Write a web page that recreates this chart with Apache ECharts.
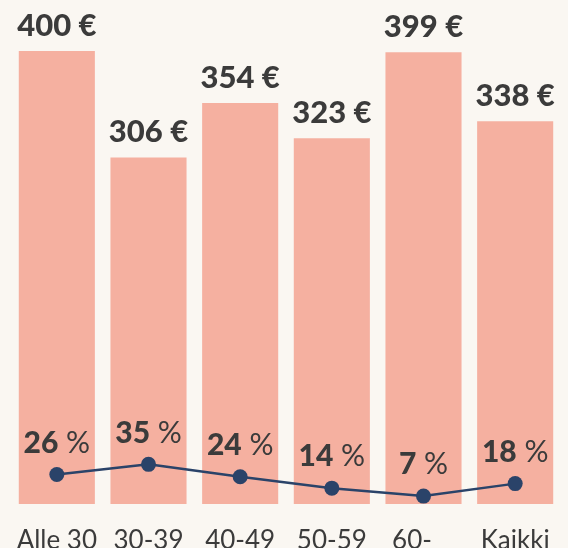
<!DOCTYPE html>
<html>
<head>
<meta charset="utf-8">
<script src="https://cdn.jsdelivr.net/npm/echarts@6/dist/echarts.min.js"></script>
<style>
  html, body { margin: 0; padding: 0; background: #faf7f2; }
  #chart { width: 568px; height: 548px; }
</style>
</head>
<body>
<div id="chart"></div>
<script>
// ikäryhmät
var categories = ['Alle 30', '30-39', '40-49', '50-59', '60-', 'Kaikki'];
// euroa
var amounts = [400, 306, 354, 323, 399, 338];
// prosenttia
var shares = [26, 35, 24, 14, 7, 18];

var chart = echarts.init(document.getElementById('chart'), null, { renderer: 'canvas' });

var fontName = 'Lato';
var dark = '#3b3b3b';

chart.setOption({
    backgroundColor: '#faf7f2',
    animation: false,
    grid: { left: 11, right: 7, top: 51, bottom: 44, outerBoundsMode: 'none', containLabel: false },
    xAxis: {
        type: 'category',
        data: categories.map(function (c) {
            if (c === '60-') return { value: c, textStyle: { padding: [0, 23, 0, 0] } };
            return c;
        }),
        axisLine: { show: false },
        axisTick: { show: false },
        axisLabel: { interval: 0, color: dark, fontFamily: fontName, fontSize: 26, margin: 24 }
    },
    yAxis: {
        type: 'value',
        min: 0,
        max: 400,
        show: false,
        splitLine: { show: false }
    },
    series: [
        {
            type: 'bar',
            data: amounts,
            barCategoryGap: '17%',
            itemStyle: { color: '#f5b0a0' },
            label: {
                show: true,
                position: 'top',
                distance: 10,
                formatter: '{c} €',
                color: dark,
                fontFamily: fontName,
                fontWeight: 900,
                fontSize: 31
            }
        },
        {
            type: 'line',
            data: shares,
            symbol: 'circle',
            symbolSize: 15,
            lineStyle: { color: '#2a4369', width: 2.5 },
            itemStyle: { color: '#2a4369' },
            label: {
                show: true,
                position: 'top',
                distance: 9,
                formatter: '{a|{c}}{b| %}',
                rich: {
                    a: { color: dark, fontFamily: fontName, fontWeight: 900, fontSize: 30 },
                    b: { color: dark, fontFamily: fontName, fontWeight: 'normal', fontSize: 30 }
                }
            }
        }
    ]
});
</script>
</body>
</html>
